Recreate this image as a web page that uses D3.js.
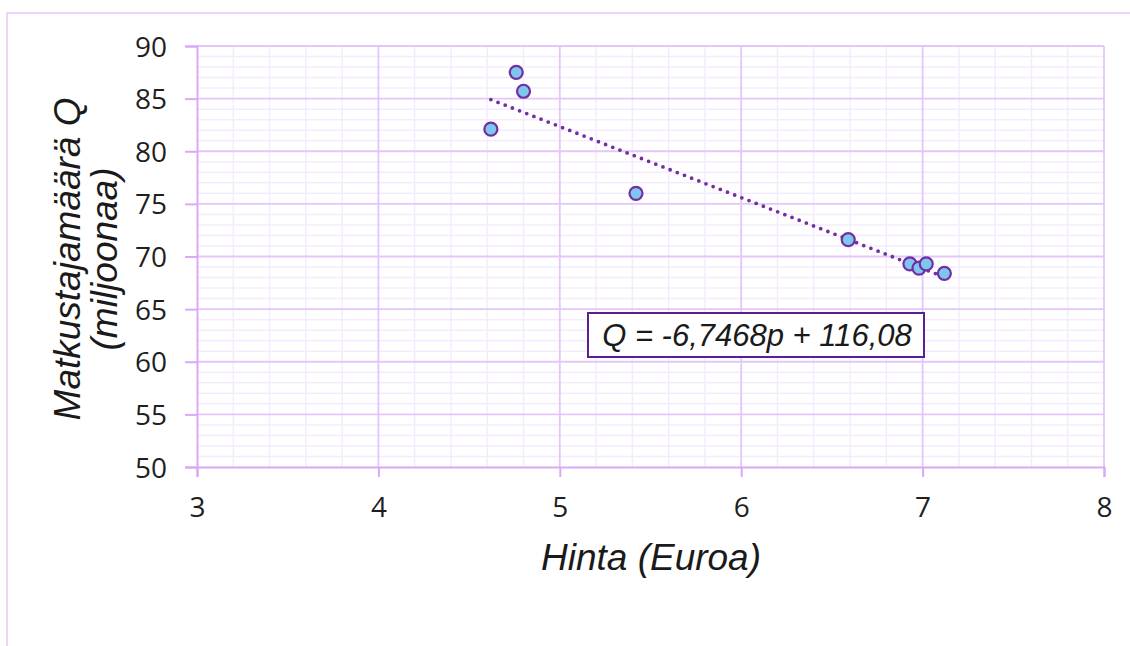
<!DOCTYPE html>
<html>
<head>
<meta charset="utf-8">
<script src="https://cdn.jsdelivr.net/npm/d3@7"></script>
<style>
  html, body { margin: 0; padding: 0; background: #fff; }
  svg { display: block; }
</style>
</head>
<body>
<svg id="chart" width="1130" height="646"></svg>
<script>
// ---- data ----
const priceValues = [4.62, 4.76, 4.80, 5.42, 6.59, 6.93, 6.98, 7.02, 7.12];
const quantityValues = [82.1, 87.5, 85.7, 76.0, 71.6, 69.3, 68.9, 69.3, 68.4];
const xTickValues = [3, 4, 5, 6, 7, 8];
const yTickValues = [50, 55, 60, 65, 70, 75, 80, 85, 90];
const trendSlope = -6.7468;
const trendIntercept = 116.08;
const equationLabel = ["Q = -6,7468p + 116,08"];
const xTitle = ["Hinta (Euroa)"];
const yTitleLines = ["Matkustajamäärä Q", "(miljoonaa)"];

(function () {
// ---- layout ----
const svg = d3.select("#chart");
const pL = 197, pR = 1104, pT = 46, pB = 467;
const x = d3.scaleLinear().domain([3, 8]).range([pL, pR]);
const y = d3.scaleLinear().domain([50, 90]).range([pB, pT]);

const majorColor = "#e4c6fb";
const minorColor = "#f5ebfe";
const axisColor = "#d9a9f7";
const purple = "#7030a0";

// outer chart border
svg.append("rect")
  .attr("x", 7).attr("y", 13)
  .attr("width", 1140).attr("height", 660)
  .attr("fill", "none").attr("stroke", "#e8cbfc").attr("stroke-width", 1.6);

// minor gridlines
const g = svg.append("g");
const minorX = d3.range(3, 8.0001, 0.2).filter(v => Math.abs(v - Math.round(v)) > 1e-6);
const minorY = d3.range(50, 90.0001, 1).filter(v => v % 5 !== 0);
g.append("g").selectAll("line").data(minorX).join("line")
  .attr("x1", d => x(d)).attr("x2", d => x(d))
  .attr("y1", pT).attr("y2", pB)
  .attr("stroke", minorColor).attr("stroke-width", 1.5);
g.append("g").selectAll("line").data(minorY).join("line")
  .attr("x1", pL).attr("x2", pR)
  .attr("y1", d => y(d)).attr("y2", d => y(d))
  .attr("stroke", minorColor).attr("stroke-width", 1.5);

// major gridlines
g.append("g").selectAll("line").data(xTickValues.slice(1)).join("line")
  .attr("x1", d => x(d)).attr("x2", d => x(d))
  .attr("y1", pT).attr("y2", pB)
  .attr("stroke", majorColor).attr("stroke-width", 1.8);
g.append("g").selectAll("line").data(yTickValues.slice(1)).join("line")
  .attr("x1", pL).attr("x2", pR)
  .attr("y1", d => y(d)).attr("y2", d => y(d))
  .attr("stroke", majorColor).attr("stroke-width", 1.8);

// axes
const xAxis = d3.axisBottom(x).tickValues(xTickValues).tickSizeOuter(0).tickSize(10).tickPadding(20)
  .tickFormat(d3.format("d"));
const yAxis = d3.axisLeft(y).tickValues(yTickValues).tickSizeOuter(0).tickSize(12).tickPadding(18)
  .tickFormat(d3.format("d"));

const gx = svg.append("g").attr("transform", `translate(0,${pB})`).call(xAxis);
const gy = svg.append("g").attr("transform", `translate(${pL},0)`).call(yAxis);
[gx, gy].forEach(a => {
  a.select(".domain").attr("stroke", axisColor).attr("stroke-width", 2);
  a.selectAll(".tick line").attr("stroke", axisColor).attr("stroke-width", 2);
  a.selectAll(".tick text")
    .attr("fill", "#1f1f1f")
    .style("font-family", "'Open Sans', sans-serif")
    .style("font-size", "28px");
});
gy.selectAll(".tick text").attr("dy", "0.36em");

// trendline
const xMin = d3.min(priceValues), xMax = d3.max(priceValues);
svg.append("line")
  .attr("x1", x(xMin)).attr("y1", y(trendSlope * xMin + trendIntercept))
  .attr("x2", x(xMax)).attr("y2", y(trendSlope * xMax + trendIntercept))
  .attr("stroke", purple).attr("stroke-width", 3.8)
  .attr("stroke-linecap", "round")
  .attr("stroke-dasharray", "0 7.7");

// points
const pts = priceValues.map((p, i) => ({ p, q: quantityValues[i] }));
svg.append("g").selectAll("circle").data(pts).join("circle")
  .attr("cx", d => x(d.p)).attr("cy", d => y(d.q))
  .attr("r", 6.5)
  .attr("fill", "#7fc6ef")
  .attr("stroke", purple).attr("stroke-width", 2.2);

// equation label box
const eq = svg.append("g");
eq.append("rect")
  .attr("x", 588).attr("y", 313).attr("width", 336).attr("height", 44)
  .attr("fill", "#fff").attr("stroke", "#5a1e96").attr("stroke-width", 2);
eq.selectAll("text").data(equationLabel).join("text")
  .attr("x", 757).attr("y", 346)
  .attr("text-anchor", "middle")
  .attr("fill", "#1a1a1a")
  .style("font-family", "'Liberation Sans', Arial, sans-serif")
  .style("font-style", "italic")
  .style("font-size", "31px")
  .text(d => d);

// axis titles
svg.selectAll(".xt").data(xTitle).join("text")
  .attr("x", 651).attr("y", 570)
  .attr("text-anchor", "middle")
  .attr("fill", "#1a1a1a")
  .style("font-family", "'Liberation Sans', Arial, sans-serif")
  .style("font-style", "italic")
  .style("font-size", "37px")
  .text(d => d);

const yt = svg.append("text")
  .attr("transform", "translate(0,259) rotate(-90)")
  .attr("text-anchor", "middle")
  .attr("fill", "#1a1a1a")
  .style("font-family", "'Liberation Sans', Arial, sans-serif")
  .style("font-style", "italic")
  .style("font-size", "37px");
yt.selectAll("tspan").data(yTitleLines).join("tspan")
  .attr("x", 0)
  .attr("y", (d, i) => i === 0 ? 80 : 117)
  .text(d => d);
})();
</script>
</body>
</html>
